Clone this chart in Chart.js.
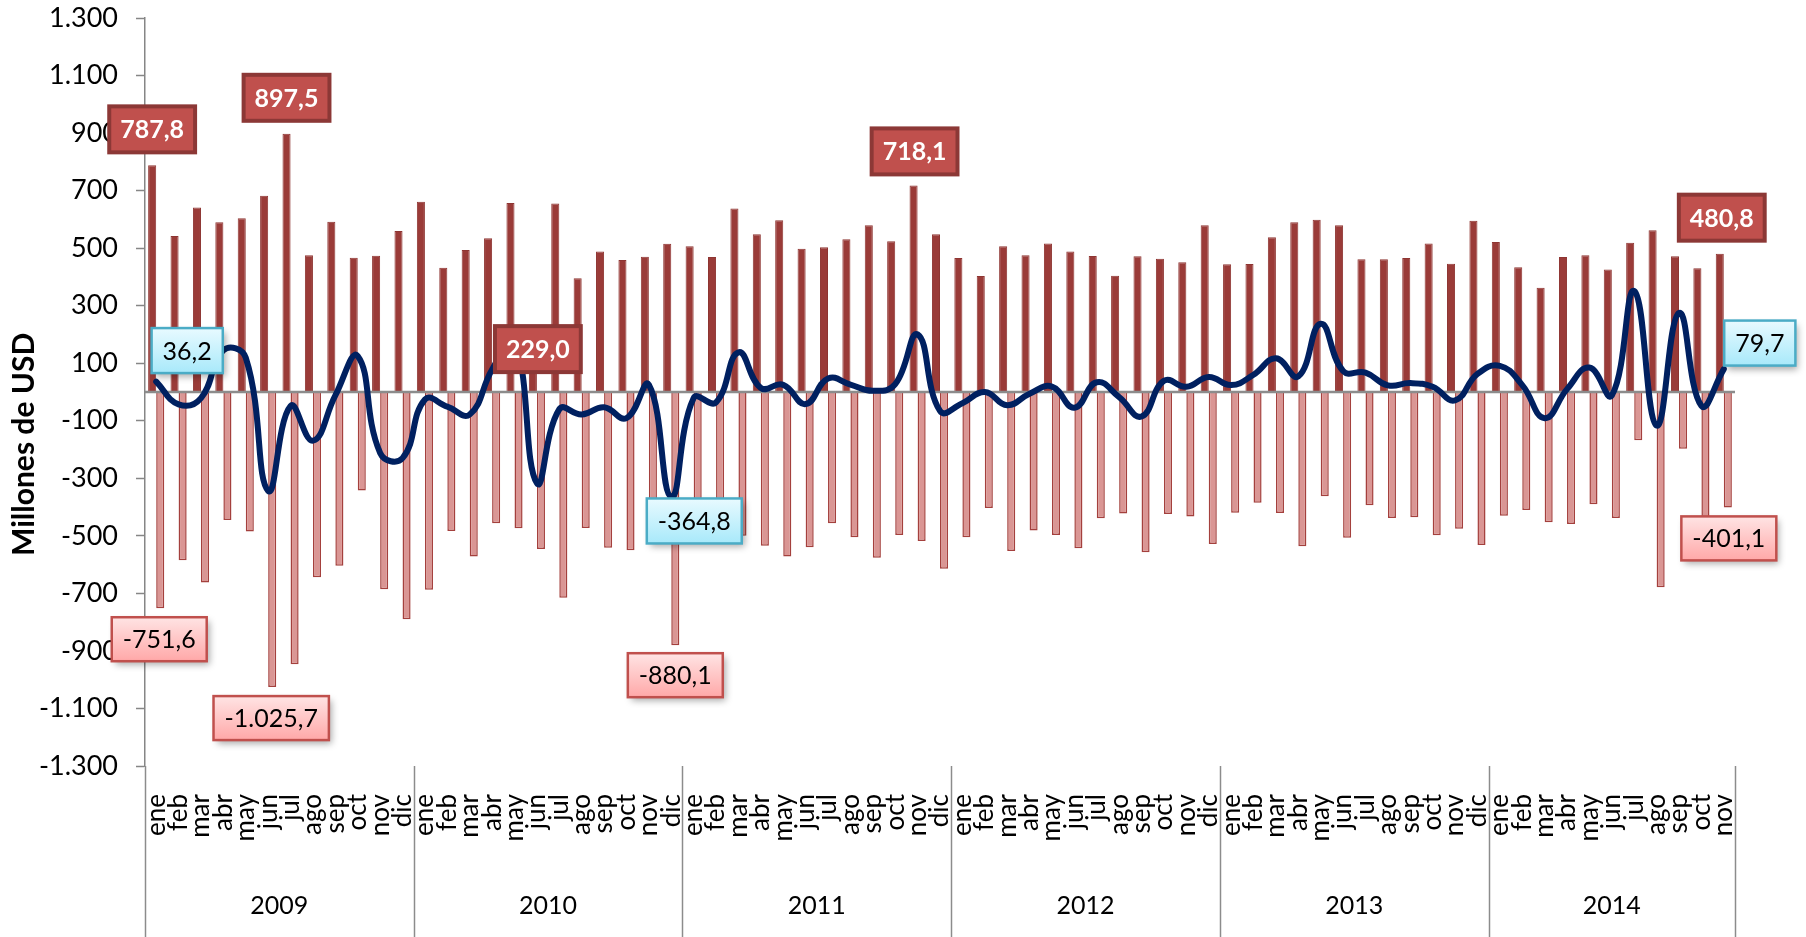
<!DOCTYPE html>
<html lang="es">
<head>
<meta charset="utf-8">
<title>Balanza comercial mensual 2009-2014</title>
<script src="https://cdn.jsdelivr.net/npm/chart.js@4.4.1/dist/chart.umd.min.js"></script>
<style>
  html, body { margin: 0; padding: 0; background: #fff; }
  #wrap { position: relative; width: 1806px; height: 937px; }
</style>
</head>
<body>
<div id="wrap"><canvas id="chart"></canvas></div>
<script>
// ─── Data (millones de USD) ──────────────────────────────────────────────
const MONTHS = ['ene', 'feb', 'mar', 'abr', 'may', 'jun', 'jul', 'ago', 'sep', 'oct', 'nov', 'dic'];
const YEARS = ['2009', '2010', '2011', '2012', '2013', '2014'];
const MONTHS_IN_YEAR = [12, 12, 12, 12, 12, 11];

const exportaciones = [
    787.8, 542, 641, 590, 604, 682, 897.5, 475, 592, 467, 474, 560,
    661, 432, 494, 534, 657, 229.0, 655, 395, 488, 459, 470, 515.3,
    507, 469, 638, 548, 597, 498, 503, 531, 580, 524, 718.1, 548,
    466, 403, 507, 475, 516, 488, 473, 404, 472, 463, 451, 580,
    444, 445, 538, 590, 599, 580, 461, 461, 466, 516, 446, 595,
    521, 434, 362, 469, 475, 426, 519, 562, 472, 430, 480.8
];
const importaciones = [
    -751.6, -585, -662, -445, -485, -1025.7, -946, -644, -604, -342, -686, -790,
    -687, -483, -572, -456, -474, -546, -715, -473, -541, -550, -445, -880.1,
    -528, -505, -500, -534, -572, -540, -456, -505, -576, -497, -518, -614,
    -505, -403, -553, -481, -497, -543, -439, -422, -557, -424, -433, -528,
    -420, -385, -421, -536, -362, -507, -394, -438, -435, -498, -475, -532,
    -430, -410, -453, -459, -390, -438, -168, -679, -197, -478, -401.1
];
const balanza = [
    36.2, -43, -21, 145, 119, -343.7, -48.5, -169, -12, 125, -212, -230,
    -26, -51, -78, 78, 183, -317, -60, -78, -53, -91, 25, -364.8,
    -21, -36, 138, 14, 25, -42, 47, 26, 4, 27, 200.1, -66,
    -39, 0, -46, -6, 19, -55, 34, -18, -85, 39, 18, 52,
    24, 60, 117, 54, 237, 73, 67, 23, 31, 18, -29, 63,
    91, 24, -91, 10, 85, -12, 351, -117, 275, -48, 79.7
];

// month labels, one per data point
const labels = [];
MONTHS_IN_YEAR.forEach(n => { for (let m = 0; m < n; m++) labels.push(MONTHS[m]); });

const Y_TITLE = 'Millones de USD';

// highlighted values: dataset index, point index, box offset from the mark
const CALLOUTS = [
    { ds: 0, i: 0,  dx: 0,   dy: -36, style: 'exp' },
    { ds: 0, i: 6,  dx: 0,   dy: -36, style: 'exp' },
    { ds: 0, i: 17, dx: 5,   dy: 23,  style: 'exp' },
    { ds: 0, i: 34, dx: 1,   dy: -34, style: 'exp' },
    { ds: 0, i: 70, dx: 2,   dy: -36, style: 'exp' },
    { ds: 1, i: 0,  dx: -1,  dy: 31,  style: 'imp' },
    { ds: 1, i: 5,  dx: -1,  dy: 31,  style: 'imp' },
    { ds: 1, i: 23, dx: 0,   dy: 30,  style: 'imp' },
    { ds: 1, i: 70, dx: 1,   dy: 31,  style: 'imp' },
    { ds: 2, i: 0,  dx: 31,  dy: -31, style: 'bal' },
    { ds: 2, i: 23, dx: 23,  dy: 24,  style: 'bal' },
    { ds: 2, i: 70, dx: 36,  dy: -26, style: 'bal' },
];

const FONT = 'Lato, "Open Sans", sans-serif';

const BOX_STYLES = {
    exp: { font: `bold 25px ${FONT}`, text: '#fff', fill: ['#C0504D', '#C0504D'], stroke: '#8C3836', lw: 4, h: 46, padX: 11, shadow: false },
    imp: { font: `25px ${FONT}`, text: '#000', fill: ['#FFE4E4', '#FFA8A8'], stroke: '#C0504D', lw: 2.5, h: 44, padX: 11, shadow: true },
    bal: { font: `25px ${FONT}`, text: '#000', fill: ['#E8FAFF', '#A8E9FA'], stroke: '#4BACC6', lw: 2.5, h: 45, padX: 11, shadow: true },
};

// 1234.5 -> "1.234,5"
function fmt(v, dec) {
    const parts = Math.abs(v).toFixed(dec).split('.');
    const int = parts[0].replace(/\B(?=(\d{3})+(?!\d))/g, '.');
    return (v < 0 ? '-' : '') + int + (parts[1] ? ',' + parts[1] : '');
}

// gray axis line at zero, drawn over the bars but under the balance line
const zeroLine = {
    id: 'zeroLine',
    afterDatasetDraw(chart, args) {
        if (args.index !== 0) return;
        const { ctx, chartArea, scales: { y } } = chart;
        const py = y.getPixelForValue(0);
        ctx.save();
        ctx.strokeStyle = '#8C8C8C';
        ctx.lineWidth = 2.5;
        ctx.beginPath();
        ctx.moveTo(chartArea.left, py);
        ctx.lineTo(chartArea.right, py);
        ctx.stroke();
        ctx.restore();
    }
};

// year row under the month labels, with separators; plus the y title
const yearAxis = {
    id: 'yearAxis',
    afterDraw(chart) {
        const { ctx, chartArea, scales: { x } } = chart;
        const half = (x.getPixelForValue(1) - x.getPixelForValue(0)) / 2;
        const edges = [];
        ctx.save();
        ctx.font = `25px ${FONT}`;
        ctx.fillStyle = '#000';
        ctx.textAlign = 'center';
        ctx.textBaseline = 'middle';
        let start = 0;
        YEARS.forEach((yr, k) => {
            const end = start + MONTHS_IN_YEAR[k] - 1;
            const left = x.getPixelForValue(start) - half;
            const right = x.getPixelForValue(end) + half;
            edges.push(left);
            if (k === YEARS.length - 1) edges.push(right);
            ctx.fillText(yr, (left + right) / 2, chartArea.bottom + 140);
            start = end + 1;
        });
        ctx.strokeStyle = '#8C8C8C';
        ctx.lineWidth = 1.5;
        edges.forEach(px => {
            ctx.beginPath();
            ctx.moveTo(Math.round(px) + 0.5, chartArea.bottom);
            ctx.lineTo(Math.round(px) + 0.5, chart.height);
            ctx.stroke();
        });

        // axis title sits a bit below the middle of the value axis, like the original
        ctx.translate(24, chartArea.top + (chartArea.bottom - chartArea.top) * 0.57);
        ctx.rotate(-Math.PI / 2);
        ctx.font = `bold 30px ${FONT}`;
        ctx.fillText(Y_TITLE, 0, 0);
        ctx.restore();
    }
};

// boxed value labels
const callouts = {
    id: 'callouts',
    afterDatasetsDraw(chart) {
        const ctx = chart.ctx;
        CALLOUTS.forEach(c => {
            const el = chart.getDatasetMeta(c.ds).data[c.i];
            const st = BOX_STYLES[c.style];
            const text = fmt(chart.data.datasets[c.ds].data[c.i], 1);
            ctx.save();
            ctx.font = st.font;
            const w = ctx.measureText(text).width + 2 * st.padX;
            const h = st.h;
            const cx = el.x + c.dx, cy = el.y + c.dy;
            const x0 = cx - w / 2, y0 = cy - h / 2;
            const g = ctx.createLinearGradient(0, y0, 0, y0 + h);
            g.addColorStop(0, st.fill[0]);
            g.addColorStop(1, st.fill[1]);
            if (st.shadow) {
                ctx.shadowColor = 'rgba(0,0,0,0.35)';
                ctx.shadowBlur = 7;
                ctx.shadowOffsetX = 3;
                ctx.shadowOffsetY = 4;
            }
            ctx.fillStyle = g;
            ctx.fillRect(x0, y0, w, h);
            ctx.shadowColor = 'transparent';
            ctx.strokeStyle = st.stroke;
            ctx.lineWidth = st.lw;
            ctx.strokeRect(x0, y0, w, h);
            ctx.fillStyle = st.text;
            ctx.textAlign = 'center';
            ctx.textBaseline = 'middle';
            ctx.fillText(text, cx, cy + 1);
            ctx.restore();
        });
    }
};

function draw() {
    new Chart(document.getElementById('chart'), {
        type: 'bar',
        data: {
            labels,
            datasets: [
                {
                    label: 'Exportaciones',
                    data: exportaciones,
                    backgroundColor: '#9A3B38',
                    borderColor: '#8E3532',
                    borderWidth: 1,
                    categoryPercentage: 0.72,
                    barPercentage: 1.0,
                    order: 1,
                },
                {
                    label: 'Importaciones',
                    data: importaciones,
                    backgroundColor: '#DA9694',
                    borderColor: '#A4403D',
                    borderWidth: 1.5,
                    categoryPercentage: 0.72,
                    barPercentage: 1.0,
                    order: 1,
                },
                {
                    type: 'line',
                    label: 'Balanza',
                    data: balanza,
                    borderColor: '#002060',
                    borderWidth: 6,
                    borderCapStyle: 'round',
                    borderJoinStyle: 'round',
                    tension: 0.45,
                    pointRadius: 0,
                    fill: false,
                    order: 0,
                },
            ]
        },
        options: {
            responsive: true,
            maintainAspectRatio: false,
            animation: false,
            layout: { autoPadding: false, padding: { top: 18, right: 71, bottom: 0, left: 0 } },
            plugins: { legend: { display: false }, tooltip: { enabled: false } },
            scales: {
                x: {
                    grid: { display: false, drawTicks: false },
                    border: { display: false },
                    ticks: {
                        autoSkip: false,
                        minRotation: 90,
                        maxRotation: 90,
                        padding: 28,
                        color: '#000',
                        font: { family: FONT, size: 26 },
                    },
                    afterFit: s => {
                        s.height = 171;
                        s.paddingLeft = 0;
                        s.paddingRight = 0;
                    }
                },
                y: {
                    min: -1300,
                    max: 1300,
                    ticks: {
                        stepSize: 200,
                        color: '#000',
                        padding: 18,
                        font: { family: FONT, size: 27 },
                        callback: v => fmt(v, 0)
                    },
                    grid: {
                        drawOnChartArea: false,
                        tickColor: '#868686',
                        tickLength: 9,
                        tickWidth: 1.5,
                    },
                    border: { display: true, color: '#868686', width: 1.5 },
                    title: { display: false },
                    afterFit: s => {
                        s.width = 145;
                        s.paddingTop = 0;
                        s.paddingBottom = 0;
                    }
                }
            }
        },
        plugins: [zeroLine, yearAxis, callouts]
    });
}

if (document.fonts && document.fonts.load) {
    Promise.all([document.fonts.load(`24px Lato`), document.fonts.load(`bold 24px Lato`)])
        .then(draw, draw);
} else {
    draw();
}
</script>
</body>
</html>
